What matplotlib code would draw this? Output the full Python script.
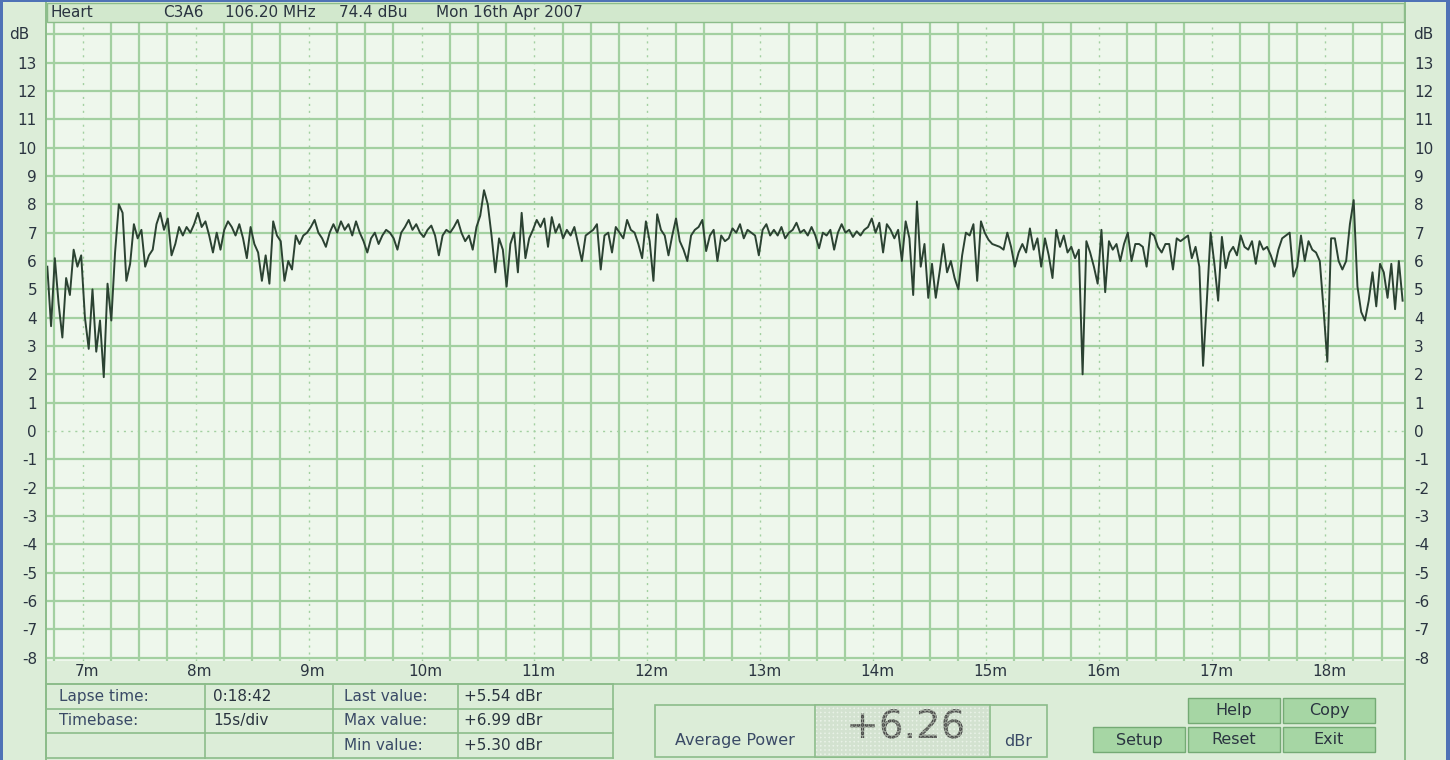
import matplotlib
matplotlib.use("Agg")
import matplotlib.pyplot as plt
import matplotlib.transforms as mtransforms
import matplotlib.patheffects as pe
from matplotlib.patches import Rectangle
from matplotlib.lines import Line2D
import numpy as np

# ---------------- data ----------------
sample_start_min = 6.6867      # time of first sample (minutes)
sample_step_s = 2.0            # seconds between samples
signal_db = [
    5.8, 3.7, 6.1, 4.5, 3.3, 5.4, 4.8, 6.4, 5.8, 6.2,
    4.0, 2.9, 5.0, 2.8, 3.9, 1.9, 5.2, 3.9, 6.3, 8.0,
    7.7, 5.3, 5.9, 7.3, 6.8, 7.1, 5.8, 6.2, 6.4, 7.3,
    7.7, 7.1, 7.5, 6.2, 6.6, 7.2, 6.9, 7.2, 7.0, 7.3,
    7.7, 7.2, 7.4, 6.9, 6.3, 7.0, 6.4, 7.1, 7.4, 7.2,
    6.9, 7.3, 6.8, 6.1, 7.2, 6.6, 6.3, 5.3, 6.2, 5.2,
    7.4, 6.9, 6.7, 5.3, 6.0, 5.7, 6.9, 6.6, 6.9, 7.0,
    7.2, 7.45, 7.0, 6.8, 6.5, 7.0, 7.3, 7.0, 7.4, 7.1,
    7.3, 6.9, 7.4, 7.0, 6.7, 6.3, 6.8, 7.0, 6.6, 6.9,
    7.1, 7.0, 6.8, 6.4, 7.0, 7.2, 7.45, 7.1, 7.3, 7.0,
    6.85, 7.1, 7.25, 6.9, 6.2, 6.9, 7.1, 7.0, 7.2, 7.45,
    7.0, 6.7, 6.9, 6.4, 7.2, 7.6, 8.5, 8.0, 6.9, 5.6,
    6.8, 6.4, 5.1, 6.6, 7.0, 5.6, 7.7, 6.1, 6.8, 7.1,
    7.45, 7.2, 7.5, 6.5, 7.55, 7.0, 7.3, 6.8, 7.1, 6.9,
    7.2, 6.6, 6.0, 6.9, 7.0, 7.1, 7.3, 5.7, 6.9, 7.0,
    6.3, 7.2, 7.0, 6.8, 7.45, 7.1, 7.0, 6.6, 6.1, 7.4,
    6.7, 5.3, 7.65, 7.1, 6.9, 6.2, 6.9, 7.5, 6.7, 6.4,
    6.0, 6.9, 7.1, 7.2, 7.45, 6.35, 6.9, 7.1, 6.0, 6.9,
    6.7, 6.8, 7.15, 7.0, 7.3, 6.8, 7.1, 7.0, 6.9, 6.2,
    7.1, 7.3, 6.9, 7.1, 6.9, 7.2, 6.8, 7.0, 7.1, 7.35,
    7.0, 7.1, 6.9, 7.2, 6.9, 6.45, 7.0, 6.9, 7.1, 6.4,
    7.0, 7.3, 7.0, 7.1, 6.85, 7.05, 6.9, 7.1, 7.2, 7.5,
    7.0, 7.35, 6.3, 7.3, 7.1, 6.8, 7.1, 6.0, 7.4, 6.8,
    4.8, 8.1, 5.8, 6.6, 4.7, 5.9, 4.7, 5.6, 6.6, 5.6,
    6.0, 5.4, 5.0, 6.2, 7.0, 6.9, 7.3, 5.3, 7.4, 7.0,
    6.75, 6.6, 6.55, 6.5, 6.4, 7.0, 6.5, 5.8, 6.3, 6.6,
    6.3, 7.15, 6.4, 6.8, 5.8, 6.8, 6.2, 5.4, 7.1, 6.5,
    6.9, 6.3, 6.5, 6.1, 6.4, 2.0, 6.7, 6.3, 5.8, 5.2,
    7.1, 4.9, 6.7, 6.4, 6.6, 6.0, 6.6, 7.0, 6.0, 6.6,
    6.6, 6.5, 5.8, 7.0, 6.9, 6.5, 6.3, 6.6, 6.6, 5.7,
    6.8, 6.7, 6.8, 6.9, 6.1, 6.5, 5.8, 2.3, 4.6, 7.0,
    5.9, 4.6, 6.85, 5.75, 6.3, 6.5, 6.2, 6.9, 6.5, 6.4,
    6.7, 5.9, 6.7, 6.4, 6.5, 6.2, 5.8, 6.4, 6.8, 6.9,
    7.0, 5.45, 5.8, 6.9, 6.0, 6.7, 6.4, 6.3, 6.0, 4.3,
    2.45, 6.8, 6.8, 6.0, 5.7, 6.0, 7.3, 8.15, 5.1, 4.2,
    3.9, 4.6, 5.6, 4.4, 5.9, 5.6, 4.7, 5.9, 4.3, 6.0,
    4.6,
]
minute_ticks = [7, 8, 9, 10, 11, 12, 13, 14, 15, 16, 17, 18]
minute_labels = ["7m", "8m", "9m", "10m", "11m", "12m", "13m", "14m",
                 "15m", "16m", "17m", "18m"]
db_ticks = [-8, -7, -6, -5, -4, -3, -2, -1, 0, 1, 2, 3, 4, 5, 6, 7, 8,
            9, 10, 11, 12, 13]
db_labels = [str(v) for v in db_ticks]
unit_label = "dB"
x_window_min = (6.6867, 18.699)
y_window_db = (-8.10, 14.45)
header_texts = ["Heart", "C3A6", "106.20 MHz", "74.4 dBu", "Mon 16th Apr 2007"]
table_col1 = ["Lapse time:", "Timebase:", ""]
table_col2 = ["0:18:42", "15s/div", ""]
table_col3 = ["Last value:", "Max value:", "Min value:"]
table_col4 = ["+5.54 dBr", "+6.99 dBr", "+5.30 dBr"]
avg_power_label = "Average Power"
avg_power_value = "+6.26"
avg_power_unit = "dBr"
buttons_top = ["Help", "Copy"]
buttons_bottom = ["Setup", "Reset", "Exit"]

# ---------------- style ----------------
W, H = 1450, 760
PANEL = "#dcedd8"
PLOT_BG = "#eef7ec"
GRID = "#a3d0a1"
BORDER = "#8cbc8a"
HEADER = "#d2e8cd"
TRACE = "#2b4232"
TEXT = "#2a3440"
LABEL_TEXT = "#3a4a66"
BLUE = "#4f72b6"
BTN = "#a6d6a4"
BTN_EDGE = "#74aa74"
FS = 11

plt.rcParams["hatch.linewidth"] = 1.8
fig = plt.figure(figsize=(W / 100, H / 100), dpi=100, facecolor=PANEL)


def fx(x):
    return x / W


def fy(y):
    return 1 - y / H


def rect(x0, y0, x1, y1, fc, ec="none", lw=1.0, z=1, **kw):
    fig.add_artist(Rectangle((fx(x0), fy(y1)), (x1 - x0) / W, (y1 - y0) / H,
                             transform=fig.transFigure, facecolor=fc,
                             edgecolor=ec, linewidth=lw, zorder=z, **kw))


def line(xs, ys, color, lw=1.0, z=2, **kw):
    fig.add_artist(Line2D([fx(x) for x in xs], [fy(y) for y in ys],
                          transform=fig.transFigure, color=color,
                          linewidth=lw, zorder=z, **kw))


def text(x, y, s, **kw):
    kw.setdefault("fontsize", FS)
    kw.setdefault("color", TEXT)
    kw.setdefault("va", "center")
    return fig.text(fx(x), fy(y), s, **kw)


# ---------------- main plot ----------------
PX0, PX1, PY0, PY1 = 47.3, 1404.0, 21.6, 660.5
ax = fig.add_axes([fx(PX0), fy(PY1), (PX1 - PX0) / W, (PY1 - PY0) / H])
ax.set_facecolor(PLOT_BG)
ax.set_xlim(*x_window_min)
ax.set_ylim(*y_window_db)
for s in ax.spines.values():
    s.set_visible(False)

quarters = np.arange(np.ceil(x_window_min[0] * 4) / 4, x_window_min[1], 0.25)
for q in quarters:
    if abs(q - round(q)) < 1e-6:
        ax.axvline(q, color=GRID, lw=1.0, ls=(0, (1.5, 3.5)), zorder=1)
    else:
        ax.axvline(q, color=GRID, lw=1.6, zorder=1)
for v in list(db_ticks) + [14]:
    if v == 0:
        ax.axhline(v, color=GRID, lw=1.0, ls=(0, (1.5, 3.5)), zorder=1)
    else:
        ax.axhline(v, color=GRID, lw=1.6, zorder=1)

times = sample_start_min + np.arange(len(signal_db)) * sample_step_s / 60.0
ax.plot(times, signal_db, color=TRACE, lw=1.4, zorder=3)

ax.set_xticks([])
ax.set_yticks(db_ticks, db_labels)
ax.tick_params(axis="y", length=0, labelleft=True, labelright=True,
               pad=7.4, labelsize=FS, labelcolor=TEXT)

trans = mtransforms.offset_copy(
    mtransforms.blended_transform_factory(ax.transData, fig.transFigure),
    fig=fig, x=4, y=0, units="dots")
for m, lab in zip(minute_ticks, minute_labels):
    ax.text(m, fy(672), lab, transform=trans, ha="center", va="center",
            fontsize=FS, color=TEXT, clip_on=False)

text(9, 34.4, unit_label, ha="left")
text(1413, 34.4, unit_label, ha="left")

# header strip
rect(PX0, 3, PX1, PY0, HEADER, ec=BORDER, lw=1.0, z=1)
for xpos, s in zip([50, 163, 225, 339, 436], header_texts):
    text(xpos, 12.5, s, ha="left")

# borders
line([46, 46], [3, 760], BORDER, lw=1.4)
line([1405, 1405], [3, 760], BORDER, lw=1.4)
line([46, 1405], [684, 684], BORDER, lw=1.2)

# window frame
rect(0, 0, 3, 760, BLUE, z=5)
rect(0, 0, 1450, 2, BLUE, z=5)
rect(1446, 0, 1450, 760, BLUE, z=5)

# ---------------- info table ----------------
cols = [46, 205, 333, 458, 613]
rows = [684, 708.5, 733, 757.5]
for yv in rows:
    line([cols[0], cols[-1]], [yv, yv], BORDER, lw=1.2)
for xv in cols:
    line([xv, xv], [rows[0], rows[-1]], BORDER, lw=1.2)
for r in range(3):
    yc = (rows[r] + rows[r + 1]) / 2
    text(59, yc, table_col1[r], ha="left", color=LABEL_TEXT)
    text(213, yc, table_col2[r], ha="left")
    text(344, yc, table_col3[r], ha="left", color=LABEL_TEXT)
    text(464, yc, table_col4[r], ha="left")

# ---------------- average power ----------------
rect(655, 705, 1047, 757, PANEL, ec=BORDER, lw=1.2)
rect(815, 705, 990, 757, "#e9f2e7", ec=BORDER, lw=1.2)
rect(816, 706, 989, 756, "none", ec="#d3e2d0", lw=0, hatch="++++")
text(735, 741, avg_power_label, ha="center", color=LABEL_TEXT, fontsize=11.5)
lcd = text(906, 727, avg_power_value, ha="center", color="#555555",
           fontsize=28, family=["Liberation Sans Narrow", "DejaVu Sans"])
lcd.set_path_effects([pe.PathPatchEffect(facecolor="#9aa197", edgecolor="#3f3f3f",
                                         hatch="....", linewidth=0)])
text(1018, 741, avg_power_unit, ha="center", color=LABEL_TEXT, fontsize=11.5)

# ---------------- buttons ----------------
for (x0, x1), lab in zip([(1188, 1280), (1283, 1375)], buttons_top):
    rect(x0, 698, x1, 723, BTN, ec=BTN_EDGE, lw=1.0)
    text((x0 + x1) / 2, 711, lab, ha="center", fontsize=11.5)
for (x0, x1), lab in zip([(1093, 1185), (1188, 1280), (1283, 1375)], buttons_bottom):
    rect(x0, 727, x1, 752, BTN, ec=BTN_EDGE, lw=1.0)
    text((x0 + x1) / 2, 740, lab, ha="center", fontsize=11.5)

fig.savefig("out.png", dpi=100, facecolor=PANEL)
